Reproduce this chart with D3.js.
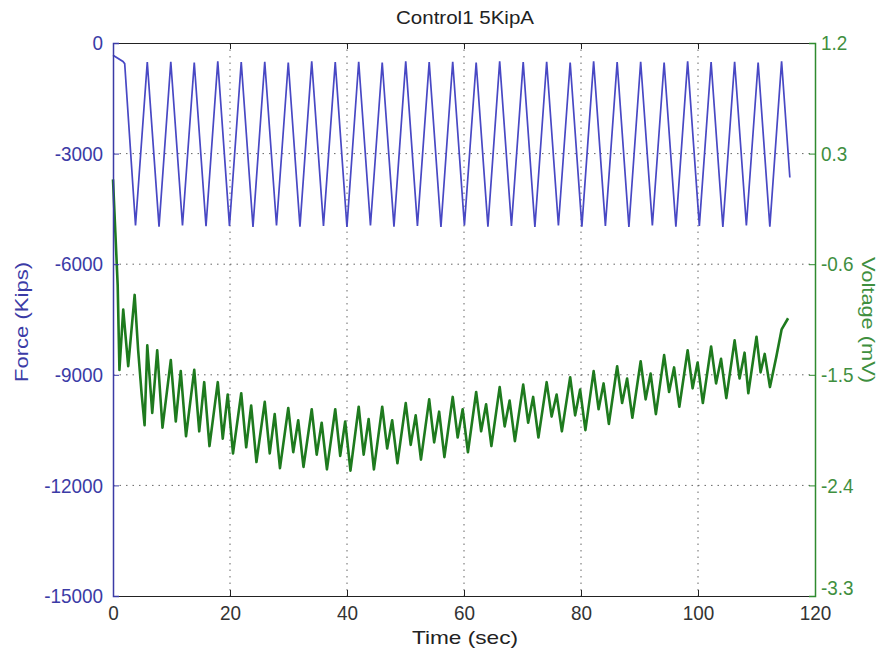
<!DOCTYPE html>
<html><head><meta charset="utf-8">
<script src="https://cdn.jsdelivr.net/npm/d3@7"></script>
<style>body{margin:0;background:#fff} svg text{font-family:"Liberation Sans",Arial,sans-serif}</style>
</head><body><svg id="c" width="885" height="660"></svg>
<script>
const chartTitle = "Control1 5KipA";
const xLabel = "Time (sec)", yLeftLabel = "Force (Kips)", yRightLabel = "Voltage (mV)";
const xTicks = [0,20,40,60,80,100,120];
const forceTicks = [0,-3000,-6000,-9000,-12000,-15000];
const voltTicks = [1.2,0.3,-0.6,-1.5,-2.4,-3.3];

const forceT = [0,1.7,2.0,3.85,5.86,7.87,9.88,11.88,13.89,15.9,17.91,19.91,21.92,23.93,25.94,27.95,29.96,31.96,33.97,35.98,37.99,39.99,42.0,44.01,46.02,48.03,50.04,52.04,54.05,56.06,58.07,60.07,62.08,64.09,66.1,68.11,70.12,72.12,74.13,76.14,78.15,80.15,82.16,84.17,86.18,88.19,90.2,92.2,94.21,96.22,98.23,100.23,102.24,104.25,106.26,108.27,110.28,112.28,114.29,115.7];
const forceV = [-330,-500,-560,-4950,-520,-4980,-510,-4950,-530,-4970,-500,-4960,-520,-4990,-510,-4950,-530,-4980,-500,-4960,-520,-4990,-510,-4950,-530,-4980,-500,-4960,-520,-4990,-510,-4950,-530,-4980,-500,-4960,-520,-4990,-510,-4950,-530,-4980,-500,-4960,-520,-4990,-510,-4950,-530,-4980,-500,-4960,-520,-4990,-510,-4950,-530,-4980,-500,-3650];

const voltT = [0,0.4,0.8,1.1,1.75,2.6,3.7,4.3,4.9,5.4,
 5.86,6.71,7.56,8.46, 9.88,10.73,11.58,12.48, 13.89,14.74,15.59,16.49, 17.91,18.76,19.61,20.51,
 21.92,22.77,23.62,24.52, 25.94,26.79,27.64,28.54, 29.96,30.81,31.66,32.56, 33.97,34.82,35.67,36.57,
 37.99,38.84,39.69,40.59, 42.0,42.85,43.7,44.6, 46.02,46.87,47.72,48.62, 50.04,50.89,51.74,52.64,
 54.05,54.9,55.75,56.65, 58.07,58.92,59.77,60.67, 62.08,62.93,63.78,64.68, 66.1,66.95,67.8,68.7,
 70.12,70.97,71.82,72.72, 74.13,74.98,75.83,76.73, 78.15,79.0,79.85,80.75, 82.16,83.01,83.86,84.76,
 86.18,87.03,87.88,88.78, 90.2,91.05,91.9,92.8, 94.21,95.06,95.91,96.81, 98.23,99.08,99.93,100.83,
 102.24,103.09,103.94,104.84, 106.26,107.11,107.96,108.6, 110.0,110.7,111.4,112.3,
 113.4,114.3,115.4];
const voltV = [0.09,-0.34,-0.77,-1.46,-0.97,-1.43,-0.85,-1.30,-1.66,-1.91,
 -1.26,-1.81,-1.30,-1.93, -1.38,-1.88,-1.47,-2.00, -1.46,-1.96,-1.56,-2.08, -1.56,-2.02,-1.66,-2.14,
 -1.65,-2.09,-1.75,-2.21, -1.72,-2.14,-1.82,-2.26, -1.77,-2.13,-1.87,-2.25, -1.78,-2.15,-1.89,-2.27,
 -1.78,-2.16,-1.88,-2.28, -1.76,-2.15,-1.86,-2.27, -1.76,-2.10,-1.87,-2.22, -1.73,-2.07,-1.83,-2.19,
 -1.70,-2.05,-1.80,-2.17, -1.68,-2.01,-1.78,-2.13, -1.64,-1.96,-1.74,-2.08, -1.60,-1.92,-1.71,-2.04,
 -1.58,-1.89,-1.68,-2.01, -1.56,-1.84,-1.66,-1.96, -1.52,-1.83,-1.62,-1.95, -1.47,-1.78,-1.57,-1.90,
 -1.43,-1.73,-1.53,-1.85, -1.39,-1.70,-1.49,-1.82, -1.34,-1.64,-1.44,-1.76, -1.30,-1.61,-1.40,-1.73,
 -1.27,-1.57,-1.37,-1.69, -1.22,-1.53,-1.32,-1.65, -1.19,-1.48,-1.33,-1.60,
 -1.35,-1.13,-1.04];

const svg = d3.select("#c");
const L = 113, R = 815, T = 43, B = 596;
const x = d3.scaleLinear([0,120],[L,R]);
const yF = d3.scaleLinear([-15000,0],[B,T]);
const yV = d3.scaleLinear([-3.3,1.2],[B,T]);
const FS = 21;
const NARROW = 0.9;
const blue = "#3b3ba6", green = "#2f8a2f", greenText = "#3f8f3f";

// grid
const grid = svg.append("g").attr("stroke","#666").attr("stroke-width",1).attr("stroke-dasharray","1.5,5");
grid.selectAll("line.gx").data(xTicks.slice(1,-1)).join("line").attr("class","gx")
  .attr("x1",d=>x(d)).attr("x2",d=>x(d)).attr("y1",T).attr("y2",B);
grid.selectAll("line.gy").data(forceTicks.slice(1,-1)).join("line").attr("class","gy")
  .attr("x1",L).attr("x2",R).attr("y1",d=>yF(d)).attr("y2",d=>yF(d));

// series
const fData = forceT.map((t,i)=>[t,forceV[i]]);
const vData = voltT.map((t,i)=>[t,voltV[i]]);
svg.append("path").datum(fData).attr("fill","none").attr("stroke","#4848c4").attr("stroke-width",1.7)
  .attr("d", d3.line().x(d=>x(d[0])).y(d=>yF(d[1])));
svg.append("path").datum(vData).attr("fill","none").attr("stroke","#1e7a1e").attr("stroke-width",2.6)
  .attr("stroke-linejoin","round")
  .attr("d", d3.line().x(d=>x(d[0])).y(d=>yV(d[1])));

// axes
const ax = svg.append("g").attr("transform",`translate(0,${B})`)
  .call(d3.axisBottom(x).tickValues(xTicks).tickSize(-6).tickPadding(9).tickFormat(d=>String(d)));
ax.select(".domain").attr("stroke","#222");
ax.selectAll(".tick line").attr("stroke","#222");
ax.selectAll("text").attr("font-size",FS).attr("fill","#333").classed("narrow",true);
const axT = svg.append("g").attr("transform",`translate(0,${T})`)
  .call(d3.axisTop(x).tickValues(xTicks).tickSize(-6).tickFormat(""));
axT.select(".domain").attr("stroke","#222");
axT.selectAll(".tick line").attr("stroke","#222");

const al = svg.append("g").attr("transform",`translate(${L},0)`)
  .call(d3.axisLeft(yF).tickValues(forceTicks).tickSize(-6).tickPadding(10).tickFormat(d=>String(d)));
al.select(".domain").attr("stroke",blue).attr("stroke-width",1.5);
al.selectAll(".tick line").attr("stroke",blue);
al.selectAll("text").attr("font-size",FS).attr("fill",blue).classed("narrow",true);

const ar = svg.append("g").attr("transform",`translate(${R},0)`)
  .call(d3.axisRight(yV).tickValues(voltTicks).tickSize(-6).tickPadding(6).tickFormat(d=>d.toFixed(1)));
ar.select(".domain").attr("stroke",green).attr("stroke-width",1.5);
ar.selectAll(".tick line").attr("stroke",green);
ar.selectAll("text").attr("font-size",FS).attr("fill",greenText).classed("narrow",true);
// lowest right label sits a little higher so it clears the "120" below it
ar.selectAll(".tick text").filter(d=>d===voltTicks[voltTicks.length-1]).attr("dy","-0.05em");

svg.selectAll(".domain").attr("fill","none");
svg.selectAll("g text").attr("font-family",null);

// labels
svg.append("text").attr("x",465).attr("y",24).attr("text-anchor","middle").attr("font-size",19).attr("fill","#222")
  .attr("data-w",138).text(chartTitle);
svg.append("text").attr("x",465).attr("y",644).attr("text-anchor","middle").attr("font-size",19).attr("fill","#222")
  .attr("data-w",106).text(xLabel);
svg.append("text").attr("transform","translate(28,322) rotate(-90)").attr("text-anchor","middle").attr("font-size",19).attr("fill",blue)
  .attr("data-w",120).text(yLeftLabel);
svg.append("text").attr("transform","translate(862,320) rotate(90)").attr("text-anchor","middle").attr("font-size",19).attr("fill",greenText)
  .attr("data-w",126).text(yRightLabel);

// condensed look of the original font
svg.selectAll("text.narrow").each(function(){
  const w = this.getComputedTextLength();
  d3.select(this).attr("textLength", w*NARROW).attr("lengthAdjust","spacingAndGlyphs");
});
svg.selectAll("text[data-w]").each(function(){
  d3.select(this).attr("textLength", +this.getAttribute("data-w")).attr("lengthAdjust","spacingAndGlyphs");
});
</script></body></html>
